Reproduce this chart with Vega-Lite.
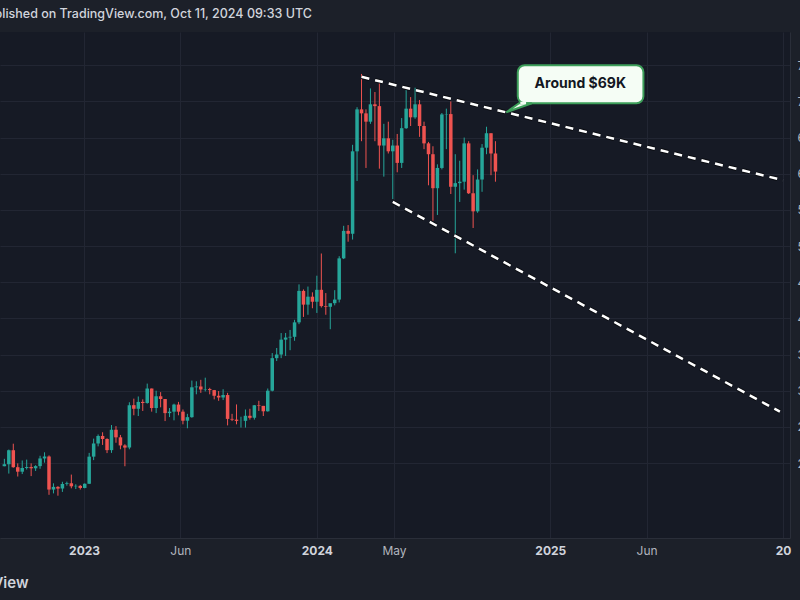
{
 "$schema": "https://vega.github.io/schema/vega-lite/v6.json",
 "width": 790,
 "height": 506,
 "autosize": {"type": "none"},
 "padding": {"left": 0, "top": 32, "right": 10, "bottom": 62},
 "background": "#1c2029",
 "config": {
  "view": {"fill": "#161a25", "stroke": null},
  "font": "Inter",
  "axisY": {"orient": "right", "grid": true, "gridColor": "#222633", "ticks": false, "tickSize": 0, "labelPadding": 7, "labelColor": "#b2b5be", "labelFontSize": 12, "domain": true, "domainColor": "#2a2e39", "title": null}
 },
 "title": {"text": "Published on TradingView.com, Oct 11, 2024 09:33 UTC", "anchor": "start", "frame": "group", "dx": -21, "offset": 12, "fontSize": 12.5, "font": "Inter", "fontWeight": 500, "color": "#d1d4dc"},
 "datasets": {
  "candles": [
   {"date":"2022-08-29","open":19555,"high":20580,"low":19550,"close":19830},
   {"date":"2022-09-05","open":19830,"high":21860,"low":18540,"close":21770},
   {"date":"2022-09-12","open":21770,"high":22670,"low":19350,"close":19420},
   {"date":"2022-09-19","open":19420,"high":19950,"low":18130,"close":18800},
   {"date":"2022-09-26","open":18800,"high":20350,"low":18470,"close":19310},
   {"date":"2022-10-03","open":19310,"high":20470,"low":19100,"close":19440},
   {"date":"2022-10-10","open":19440,"high":19950,"low":18190,"close":19270},
   {"date":"2022-10-17","open":19270,"high":19700,"low":18900,"close":19570},
   {"date":"2022-10-24","open":19570,"high":21000,"low":19200,"close":20630},
   {"date":"2022-10-31","open":20630,"high":21480,"low":20050,"close":20900},
   {"date":"2022-11-07","open":20900,"high":21050,"low":15600,"close":16330},
   {"date":"2022-11-14","open":16330,"high":17190,"low":15800,"close":16700},
   {"date":"2022-11-21","open":16700,"high":16800,"low":15480,"close":16460},
   {"date":"2022-11-28","open":16460,"high":17400,"low":16000,"close":17100},
   {"date":"2022-12-05","open":17100,"high":17420,"low":16870,"close":17200},
   {"date":"2022-12-12","open":17200,"high":18400,"low":16500,"close":16780},
   {"date":"2022-12-19","open":16780,"high":17060,"low":16400,"close":16840},
   {"date":"2022-12-26","open":16840,"high":16970,"low":16330,"close":16550},
   {"date":"2023-01-02","open":16550,"high":17180,"low":16500,"close":17130},
   {"date":"2023-01-09","open":17130,"high":21400,"low":17100,"close":20880},
   {"date":"2023-01-16","open":20880,"high":23370,"low":20400,"close":22700},
   {"date":"2023-01-23","open":22700,"high":23950,"low":22300,"close":23740},
   {"date":"2023-01-30","open":23740,"high":24250,"low":22500,"close":23320},
   {"date":"2023-02-06","open":23320,"high":23420,"low":21370,"close":21780},
   {"date":"2023-02-13","open":21780,"high":25250,"low":21400,"close":24600},
   {"date":"2023-02-20","open":24600,"high":25100,"low":22800,"close":23550},
   {"date":"2023-02-27","open":23550,"high":23880,"low":21900,"close":22430},
   {"date":"2023-03-06","open":22430,"high":22600,"low":19550,"close":22130},
   {"date":"2023-03-13","open":22130,"high":28400,"low":21900,"close":28000},
   {"date":"2023-03-20","open":28000,"high":28900,"low":26600,"close":27500},
   {"date":"2023-03-27","open":27500,"high":29200,"low":26500,"close":28450},
   {"date":"2023-04-03","open":28450,"high":28800,"low":27200,"close":28300},
   {"date":"2023-04-10","open":28300,"high":30980,"low":28200,"close":30300},
   {"date":"2023-04-17","open":30300,"high":30300,"low":27100,"close":27600},
   {"date":"2023-04-24","open":27600,"high":30000,"low":26900,"close":29230},
   {"date":"2023-05-01","open":29230,"high":29800,"low":27700,"close":28850},
   {"date":"2023-05-08","open":28850,"high":28850,"low":25800,"close":26900},
   {"date":"2023-05-15","open":26900,"high":27600,"low":26350,"close":27100},
   {"date":"2023-05-22","open":27100,"high":28200,"low":25900,"close":28080},
   {"date":"2023-05-29","open":28080,"high":28450,"low":26600,"close":27100},
   {"date":"2023-06-05","open":27100,"high":27400,"low":25350,"close":25850},
   {"date":"2023-06-12","open":25850,"high":26800,"low":24800,"close":26340},
   {"date":"2023-06-19","open":26340,"high":31400,"low":26250,"close":30470},
   {"date":"2023-06-26","open":30470,"high":31300,"low":29500,"close":30580},
   {"date":"2023-07-03","open":30580,"high":31500,"low":29700,"close":30170},
   {"date":"2023-07-10","open":30170,"high":31800,"low":29900,"close":30230},
   {"date":"2023-07-17","open":30230,"high":30400,"low":29500,"close":30080},
   {"date":"2023-07-24","open":30080,"high":30100,"low":28800,"close":29300},
   {"date":"2023-07-31","open":29300,"high":29950,"low":28600,"close":29060},
   {"date":"2023-08-07","open":29060,"high":30200,"low":28700,"close":29400},
   {"date":"2023-08-14","open":29400,"high":29700,"low":25200,"close":26100},
   {"date":"2023-08-21","open":26100,"high":26800,"low":25800,"close":26000},
   {"date":"2023-08-28","open":26000,"high":28100,"low":25350,"close":25820},
   {"date":"2023-09-04","open":25820,"high":26400,"low":24900,"close":25830},
   {"date":"2023-09-11","open":25830,"high":27400,"low":24900,"close":26530},
   {"date":"2023-09-18","open":26530,"high":27500,"low":26000,"close":26250},
   {"date":"2023-09-25","open":26250,"high":28000,"low":26000,"close":27980},
   {"date":"2023-10-02","open":27980,"high":28600,"low":27200,"close":27900},
   {"date":"2023-10-09","open":27900,"high":27900,"low":26500,"close":27150},
   {"date":"2023-10-16","open":27150,"high":30300,"low":27100,"close":30000},
   {"date":"2023-10-23","open":30000,"high":35200,"low":29900,"close":34500},
   {"date":"2023-10-30","open":34500,"high":35900,"low":34100,"close":35000},
   {"date":"2023-11-06","open":35000,"high":37970,"low":34500,"close":37060},
   {"date":"2023-11-13","open":37060,"high":37980,"low":34800,"close":37350},
   {"date":"2023-11-20","open":37350,"high":38400,"low":35600,"close":37450},
   {"date":"2023-11-27","open":37450,"high":39800,"low":36900,"close":39450},
   {"date":"2023-12-04","open":39450,"high":44700,"low":39200,"close":43800},
   {"date":"2023-12-11","open":43800,"high":44000,"low":40200,"close":41900},
   {"date":"2023-12-18","open":41900,"high":44400,"low":40500,"close":43000},
   {"date":"2023-12-25","open":43000,"high":43600,"low":41400,"close":42300},
   {"date":"2024-01-01","open":42300,"high":45900,"low":40750,"close":43950},
   {"date":"2024-01-08","open":43950,"high":48970,"low":41500,"close":41700},
   {"date":"2024-01-15","open":41700,"high":43500,"low":40500,"close":41600},
   {"date":"2024-01-22","open":41600,"high":42000,"low":38500,"close":42100},
   {"date":"2024-01-29","open":42100,"high":43900,"low":41800,"close":42600},
   {"date":"2024-02-05","open":42600,"high":48600,"low":42200,"close":48300},
   {"date":"2024-02-12","open":48300,"high":52800,"low":48200,"close":52100},
   {"date":"2024-02-19","open":52100,"high":52900,"low":50600,"close":51700},
   {"date":"2024-02-26","open":51700,"high":64000,"low":50900,"close":63100},
   {"date":"2024-03-04","open":63100,"high":69200,"low":59000,"close":68900},
   {"date":"2024-03-11","open":68900,"high":73800,"low":64500,"close":68350},
   {"date":"2024-03-18","open":68350,"high":68900,"low":60800,"close":67200},
   {"date":"2024-03-25","open":67200,"high":71800,"low":66900,"close":69600},
   {"date":"2024-04-01","open":69600,"high":71300,"low":64500,"close":69350},
   {"date":"2024-04-08","open":69350,"high":72800,"low":60700,"close":63900},
   {"date":"2024-04-15","open":63900,"high":66900,"low":59600,"close":64900},
   {"date":"2024-04-22","open":64900,"high":67200,"low":62800,"close":63100},
   {"date":"2024-04-29","open":63100,"high":64700,"low":56500,"close":63900},
   {"date":"2024-05-06","open":63900,"high":65500,"low":60200,"close":61500},
   {"date":"2024-05-13","open":61500,"high":67700,"low":60800,"close":66300},
   {"date":"2024-05-20","open":66300,"high":71950,"low":66200,"close":69000},
   {"date":"2024-05-27","open":69000,"high":70600,"low":66600,"close":67800},
   {"date":"2024-06-03","open":67800,"high":71900,"low":67600,"close":69600},
   {"date":"2024-06-10","open":69600,"high":70200,"low":65100,"close":66600},
   {"date":"2024-06-17","open":66600,"high":67200,"low":63400,"close":64200},
   {"date":"2024-06-24","open":64200,"high":64400,"low":58400,"close":62700},
   {"date":"2024-07-01","open":62700,"high":63800,"low":53500,"close":58000},
   {"date":"2024-07-08","open":58000,"high":61300,"low":54300,"close":60800},
   {"date":"2024-07-15","open":60800,"high":68400,"low":60600,"close":68200},
   {"date":"2024-07-22","open":68200,"high":69000,"low":63400,"close":68250},
   {"date":"2024-07-29","open":68250,"high":70000,"low":57200,"close":58200},
   {"date":"2024-08-05","open":58200,"high":62700,"low":49000,"close":58700},
   {"date":"2024-08-12","open":58700,"high":61800,"low":56100,"close":58900},
   {"date":"2024-08-19","open":58900,"high":65000,"low":57800,"close":64200},
   {"date":"2024-08-26","open":64200,"high":64500,"low":57200,"close":57300},
   {"date":"2024-09-02","open":57300,"high":59800,"low":52500,"close":54800},
   {"date":"2024-09-09","open":54800,"high":60600,"low":54600,"close":59200},
   {"date":"2024-09-16","open":59200,"high":64100,"low":57500,"close":63600},
   {"date":"2024-09-23","open":63600,"high":66500,"low":62700,"close":65600},
   {"date":"2024-09-30","open":65600,"high":65600,"low":59800,"close":62800},
   {"date":"2024-10-07","open":62800,"high":64500,"low":58900,"close":60300}
  ],
  "channel": [
   {"line":"upper","date":"2024-03-11","price":73400},
   {"line":"upper","date":"2026-01-01","price":59100},
   {"line":"lower","date":"2024-04-29","price":56100},
   {"line":"lower","date":"2025-12-27","price":27100}
  ],
  "callout": [
   {"date":"2024-11-11","date_end":"2025-05-27","top":75000,"bottom":69750}
  ],
  "tail": [
   {"date":"2024-10-24","top":68500,"bottom":68500},
   {"date":"2024-11-13","top":69750,"bottom":69130},
   {"date":"2024-12-03","top":69750,"bottom":69750}
  ],
  "joint": [
   {"date":"2024-11-15","date_end":"2024-11-24","top":69960,"bottom":69610}
  ],
  "note": [
   {"date":"2025-02-17","price":72350,"label":"Around $69K"}
  ]
 },
 "encoding": {
  "x": {
   "field": "date", "type": "temporal",
   "scale": {"type": "utc", "domain": [{"year":2022,"month":8,"date":30,"utc":true},{"year":2026,"month":1,"date":4,"utc":true}]},
   "axis": {
    "values": [{"year":2023,"month":1,"date":1,"utc":true},{"year":2023,"month":6,"date":1,"utc":true},{"year":2024,"month":1,"date":1,"utc":true},{"year":2024,"month":5,"date":1,"utc":true},{"year":2025,"month":1,"date":1,"utc":true},{"year":2025,"month":6,"date":1,"utc":true},{"year":2026,"month":1,"date":1,"utc":true}],
    "labelExpr": "utcmonth(datum.value) == 0 ? (utcyear(datum.value) == 2026 ? '20' : utcFormat(datum.value, '%Y')) : utcFormat(datum.value, '%b')",
    "labelFontWeight": {"condition": {"test": "utcmonth(datum.value) == 0", "value": "bold"}, "value": "normal"},
    "labelColor": {"condition": {"test": "utcmonth(datum.value) == 0", "value": "#d1d4dc"}, "value": "#b2b5be"},
    "labelFont": "Inter", "labelFontSize": 12, "labelPadding": 7, "labelFlush": false, "labelOverlap": false, "labelBound": false,
    "grid": true, "gridColor": "#222633", "ticks": false, "tickSize": 0,
    "domain": true, "domainColor": "#2a2e39",
    "title": "TradingView", "titleX": 28, "titleY": 44, "titleAlign": "right", "titleBaseline": "middle",
    "titleFont": "Inter", "titleFontSize": 15, "titleFontWeight": 600, "titleColor": "#d1d4dc"
   }
  }
 },
 "layer": [
  {
   "data": {"name": "candles"},
   "mark": {"type": "rule", "strokeWidth": 1, "clip": true},
   "encoding": {
    "y": {"field": "low", "type": "quantitative", "scale": {"domain": [9630, 79600], "nice": false, "zero": false},
      "axis": {"orient": "right", "values": [20000,25000,30000,35000,40000,45000,50000,55000,60000,65000,70000,75000], "format": ",", "title": null}},
    "y2": {"field": "high"},
    "color": {"condition": {"test": "datum.close >= datum.open", "value": "#26a69a"}, "value": "#ef5350"}
   }
  },
  {
   "data": {"name": "candles"},
   "mark": {"type": "bar", "size": 3.5, "clip": true},
   "encoding": {
    "y": {"field": "open", "type": "quantitative", "scale": {"domain": [9630, 79600], "nice": false, "zero": false}},
    "y2": {"field": "close"},
    "color": {"condition": {"test": "datum.close >= datum.open", "value": "#26a69a"}, "value": "#ef5350"}
   }
  },
  {
   "data": {"name": "channel"},
   "mark": {"type": "line", "stroke": "#0b0d12", "strokeWidth": 4.5, "strokeDash": [8, 6], "strokeCap": "butt", "clip": true},
   "encoding": {
    "y": {"field": "price", "type": "quantitative", "scale": {"domain": [9630, 79600], "nice": false, "zero": false}},
    "detail": {"field": "line"}
   }
  },
  {
   "data": {"name": "channel"},
   "mark": {"type": "line", "stroke": "#ffffff", "strokeWidth": 2.5, "strokeDash": [8, 6], "strokeCap": "butt", "clip": true},
   "encoding": {
    "y": {"field": "price", "type": "quantitative", "scale": {"domain": [9630, 79600], "nice": false, "zero": false}},
    "detail": {"field": "line"}
   }
  },
  {
   "data": {"name": "callout"},
   "mark": {"type": "rect", "fill": "#f5fdf5", "stroke": "#3d9f5a", "strokeWidth": 2, "cornerRadius": 7},
   "encoding": {
    "x2": {"field": "date_end"},
    "y": {"field": "top", "type": "quantitative", "scale": {"domain": [9630, 79600], "nice": false, "zero": false}},
    "y2": {"field": "bottom"}
   }
  },
  {
   "data": {"name": "tail"},
   "mark": {"type": "area", "fill": "#f5fdf5", "stroke": "#3d9f5a", "strokeWidth": 2, "strokeJoin": "miter"},
   "encoding": {
    "y": {"field": "top", "type": "quantitative", "scale": {"domain": [9630, 79600], "nice": false, "zero": false}},
    "y2": {"field": "bottom"}
   }
  },
  {
   "data": {"name": "joint"},
   "mark": {"type": "rect", "fill": "#f5fdf5"},
   "encoding": {
    "x2": {"field": "date_end"},
    "y": {"field": "top", "type": "quantitative", "scale": {"domain": [9630, 79600], "nice": false, "zero": false}},
    "y2": {"field": "bottom"}
   }
  },
  {
   "data": {"name": "note"},
   "mark": {"type": "text", "font": "Inter", "fontSize": 14, "fontWeight": "bold", "color": "#131722", "align": "center", "baseline": "middle"},
   "encoding": {
    "y": {"field": "price", "type": "quantitative", "scale": {"domain": [9630, 79600], "nice": false, "zero": false}},
    "text": {"field": "label"}
   }
  }
 ]
}
